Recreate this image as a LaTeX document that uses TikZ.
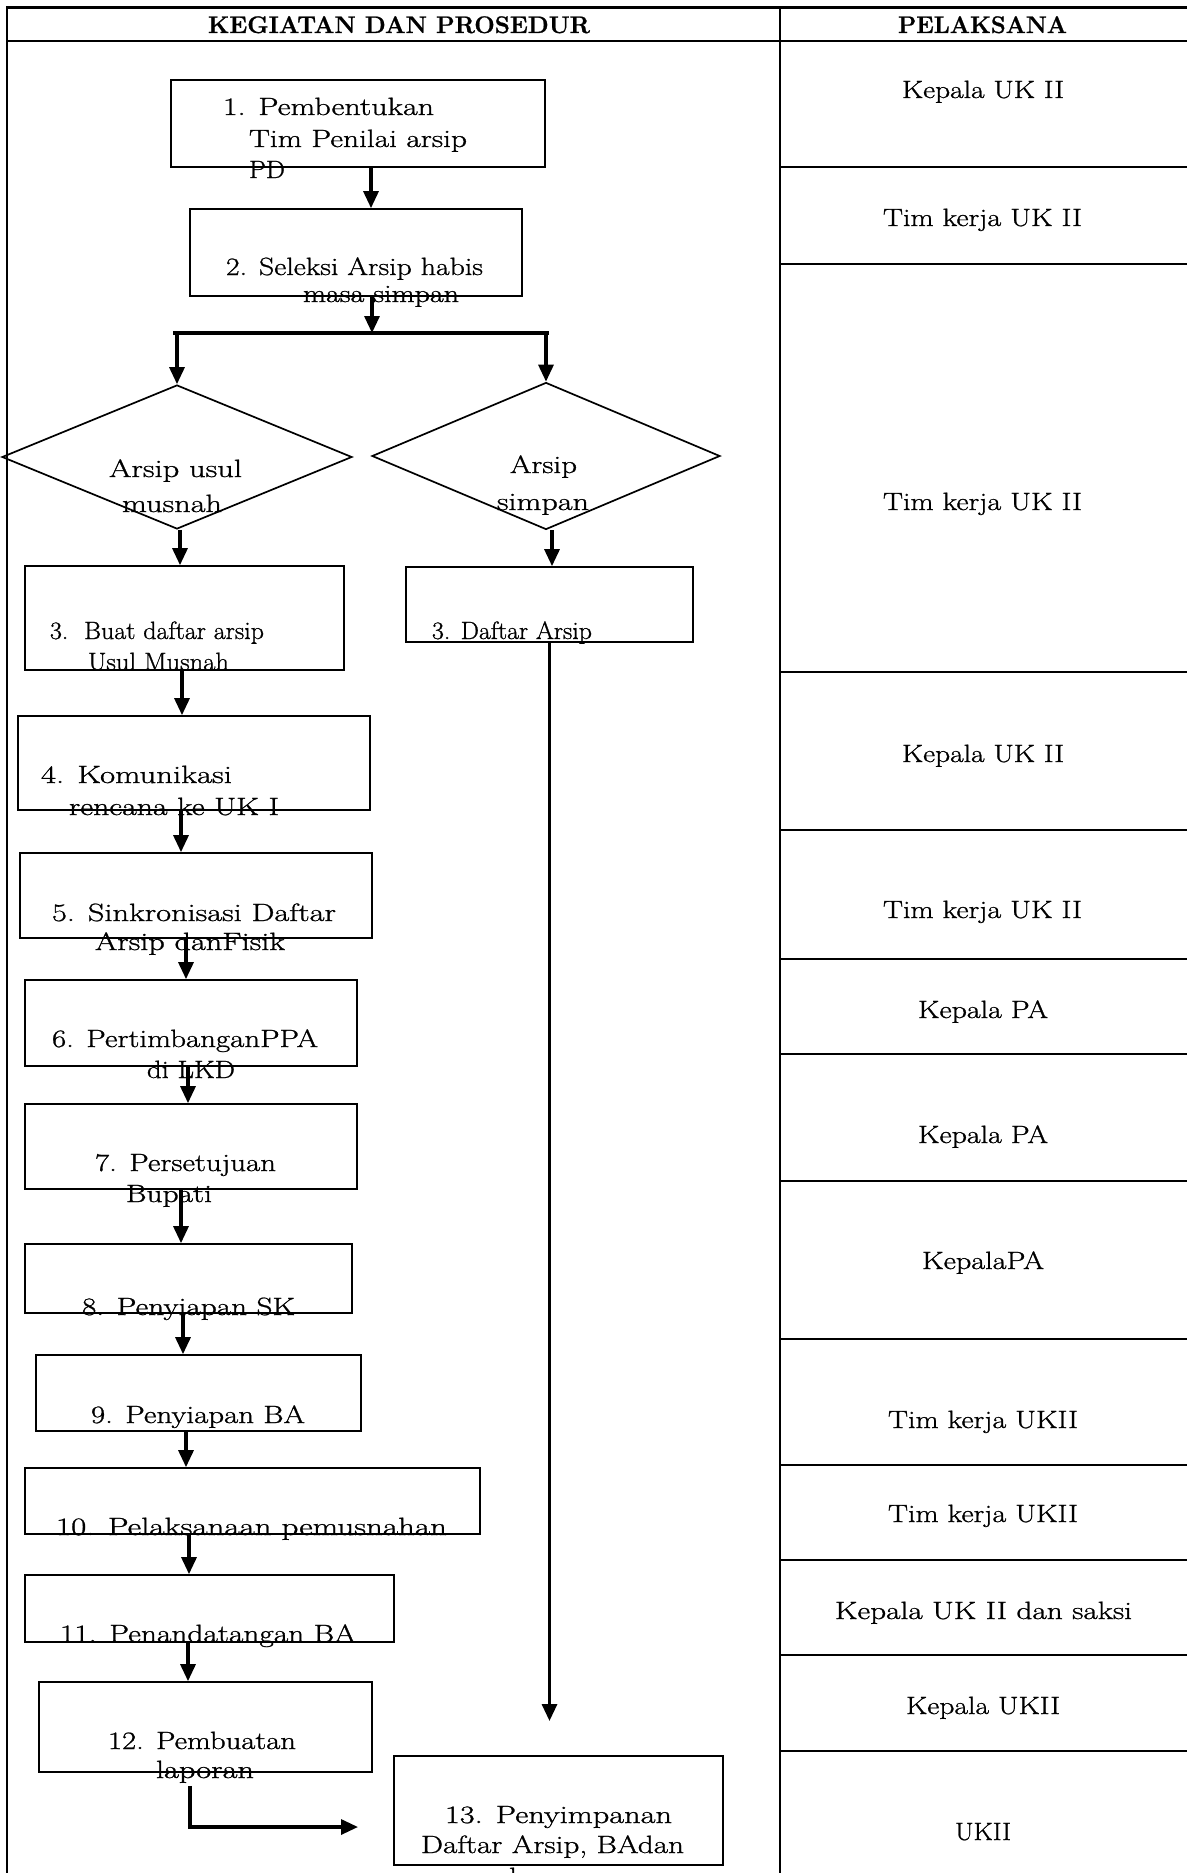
\documentclass[tikz,border=0pt]{standalone}
\usepackage{fontspec}
\usepackage{graphicx}
\newfontfamily\bk{Latin Modern Roman}[FakeBold=0.9]
\usetikzlibrary{arrows.meta,shapes.geometric}
\newlength\fwlen
\newcommand\fw[2]{\settowidth\fwlen{#2}\pgfmathsetmacro\fwr{#1/\fwlen}\scalebox{\fwr}[1]{#2}}
\begin{document}
\begin{tikzpicture}[x=1pt,y=-1pt,
  tab/.style={line width=2.2pt},
  box/.style={draw, line width=1.7pt, rectangle, inner sep=0pt},
  dia/.style={draw, line width=1.7pt, diamond, inner sep=0pt},
  arr/.style={line width=3.2pt, -{Triangle[length=17pt,width=15pt]}},
  tx/.style={inner sep=0pt, anchor=base, font=\fontsize{25}{30}\bk},
  hd/.style={inner sep=0pt, anchor=base, font=\fontsize{24}{28}\bk\bfseries}]
\useasboundingbox (0,0) rectangle (1187,1873);

% table frame
\draw[tab] (7,1873) -- (7,7.5) -- (1187,7.5);
\draw[tab] (7,41) -- (1187,41);
\draw[tab] (780,7.5) -- (780,1873);
\foreach \yy in {167,264,672,830,959,1054,1181,1339,1465,1560,1655,1751}
  \draw[tab] (780,\yy) -- (1187,\yy);

% headers
\node[hd] (h1) at (399,33) {\fw{382}{KEGIATAN DAN PROSEDUR}};
\node[hd] (h2) at (982.5,33) {\fw{169}{PELAKSANA}};

% right column
\node[tx] (r1) at (983,98) {\fw{162}{Kepala UK II}};
\node[tx] (r2) at (982.5,226) {\fw{199}{Tim kerja UK II}};
\node[tx] (r3) at (982.5,510) {\fw{199}{Tim kerja UK II}};
\node[tx] (r4) at (983,762) {\fw{162}{Kepala UK II}};
\node[tx] (r5) at (982.5,918) {\fw{199}{Tim kerja UK II}};
\node[tx] (r6) at (983,1018) {\fw{130}{Kepala PA}};
\node[tx] (r7) at (983,1143) {\fw{130}{Kepala PA}};
\node[tx] (r8) at (983,1269) {\fw{122}{KepalaPA}};
\node[tx] (r9) at (983,1428) {\fw{190}{Tim kerja UKII}};
\node[tx] (r10) at (983,1522) {\fw{190}{Tim kerja UKII}};
\node[tx] (r11) at (983.5,1619) {\fw{297}{Kepala UK II dan saksi}};
\node[tx] (r12) at (983,1714) {\fw{154}{Kepala UKII}};
\node[tx] (r13) at (983,1840) {\fw{56}{UKII}};

% boxes
\node[box, minimum width=374pt, minimum height=87pt] (b1) at (358,123.5) {};
\node[box, minimum width=332pt, minimum height=87pt] (b2) at (356,252.5) {};
\node[dia, minimum width=350pt, minimum height=144pt] (d1) at (177,457) {};
\node[dia, minimum width=348pt, minimum height=147pt] (d2) at (546,456) {};
\node[box, minimum width=319pt, minimum height=104pt] (b3a) at (184.5,618) {};
\node[box, minimum width=287pt, minimum height=75pt] (b3b) at (549.5,604.5) {};
\node[box, minimum width=352pt, minimum height=94pt] (b4) at (194,763) {};
\node[box, minimum width=352pt, minimum height=85pt] (b5) at (196,895.5) {};
\node[box, minimum width=332pt, minimum height=86pt] (b6) at (191,1023) {};
\node[box, minimum width=332pt, minimum height=85pt] (b7) at (191,1146.5) {};
\node[box, minimum width=327pt, minimum height=69pt] (b8) at (188.5,1278.5) {};
\node[box, minimum width=325pt, minimum height=76pt] (b9) at (198.5,1393) {};
\node[box, minimum width=455pt, minimum height=66pt] (b10) at (252.5,1501) {};
\node[box, minimum width=369pt, minimum height=67pt] (b11) at (209.5,1608.5) {};
\node[box, minimum width=333pt, minimum height=90pt] (b12) at (205.5,1727) {};
\node[box, minimum width=329pt, minimum height=109pt] (b13) at (558.5,1810.5) {};

% texts in boxes
\node[tx] (t1a) at (328.5,115) {\fw{211}{1. Pembentukan}};
\node[tx] (t1b) at (358,147) {\fw{218}{Tim Penilai arsip}};
\node[tx] (t1c) at (267,178) {\fw{36}{PD}};
\node[tx] (t2a) at (354.5,275) {\fw{257}{2. Seleksi Arsip habis}};
\node[tx] (t2b) at (381,302) {\fw{156}{masa simpan}};
\node[tx] (td1a) at (175.5,477) {\fw{133}{Arsip usul}};
\node[tx] (td1b) at (172,512) {\fw{100}{musnah}};
\node[tx] (td2a) at (543.5,473) {\fw{67}{Arsip}};
\node[tx] (td2b) at (543,510) {\fw{92}{simpan}};
\node[tx] (t3a) at (157,639) {\fw{214}{3.\ \ Buat daftar arsip}};
\node[tx] (t3b) at (158.5,670) {\fw{141}{Usul Musnah}};
\node[tx] (t3c) at (512,639) {\fw{160}{3. Daftar Arsip}};
\node[tx] (t4a) at (136.5,783) {\fw{191}{4. Komunikasi}};
\node[tx] (t4b) at (174,815) {\fw{210}{rencana ke UK I}};
\node[tx] (t5a) at (194,921) {\fw{284}{5. Sinkronisasi Daftar}};
\node[tx] (t5b) at (190,950) {\fw{190}{Arsip danFisik}};
\node[tx] (t6a) at (185,1047) {\fw{266}{6. PertimbanganPPA}};
\node[tx] (t6b) at (191,1078) {\fw{88}{di LKD}};
\node[tx] (t7a) at (185.5,1171) {\fw{181}{7. Persetujuan}};
\node[tx] (t7b) at (169,1202) {\fw{86}{Bupati}};
\node[tx] (t8) at (188.5,1315) {\fw{213}{8. Penyiapan SK}};
\node[tx] (t9) at (198,1423) {\fw{214}{9. Penyiapan BA}};
\node[tx] (t10) at (251.5,1535) {\fw{391}{10. Pelaksanaan pemusnahan}};
\node[tx] (t11) at (208,1642) {\fw{296}{11. Penandatangan BA}};
\node[tx] (t12a) at (202,1749) {\fw{188}{12. Pembuatan}};
\node[tx] (t12b) at (205,1778) {\fw{98}{laporan}};
\node[tx] (t13a) at (558.5,1823) {\fw{227}{13. Penyimpanan}};
\node[tx] (t13b) at (552.5,1853) {\fw{263}{Daftar Arsip, BAdan}};
\node[tx] (t13c) at (558,1885) {\fw{98}{laporan}};

% split bar
\coordinate (barL) at (173,333);
\coordinate (barR) at (549,333);
\coordinate (barM) at (372,333);
\draw[line width=4pt] (barL) -- (barR);

% connectors
\draw[arr] ([xshift=13pt]b1.south) -- ([xshift=15pt]b2.north);
\draw[arr] ([xshift=16pt]b2.south) -- (barM);
\draw[arr] (d1.north |- barL) -- (d1.north);
\draw[arr] (d2.north |- barR) -- (d2.north);
\draw[arr] ([xshift=3pt]d1.south) -- ([xshift=-4.5pt]b3a.north);
\draw[arr] ([xshift=6pt]d2.south) -- ([xshift=2.5pt]b3b.north);
\coordinate (t13) at (549.5,1721);
\draw[arr] (b3b.south) -- (t13);
\draw[arr] ([xshift=-2.5pt]b3a.south) -- ([xshift=-12pt]b4.north);
\draw[arr] ([xshift=-13pt]b4.south) -- ([xshift=-15pt]b5.north);
\draw[arr] ([xshift=-10pt]b5.south) -- ([xshift=-5pt]b6.north);
\draw[arr] ([xshift=-3pt]b6.south) -- ([xshift=-3pt]b7.north);
\draw[arr] ([xshift=-10pt]b7.south) -- ([xshift=-7.5pt]b8.north);
\draw[arr] ([xshift=-5.5pt]b8.south) -- ([xshift=-15.5pt]b9.north);
\draw[arr] ([xshift=-12.5pt]b9.south) -- ([xshift=-66.5pt]b10.north);
\draw[arr] ([xshift=-63.5pt]b10.south) -- ([xshift=-20.5pt]b11.north);
\draw[arr] ([xshift=-21.5pt]b11.south) -- ([xshift=-17.5pt]b12.north);
\coordinate (e12) at (358,1827);
\draw[arr] ([xshift=-15.5pt,yshift=-13pt]b12.south) |- (e12);
\end{tikzpicture}
\end{document}
